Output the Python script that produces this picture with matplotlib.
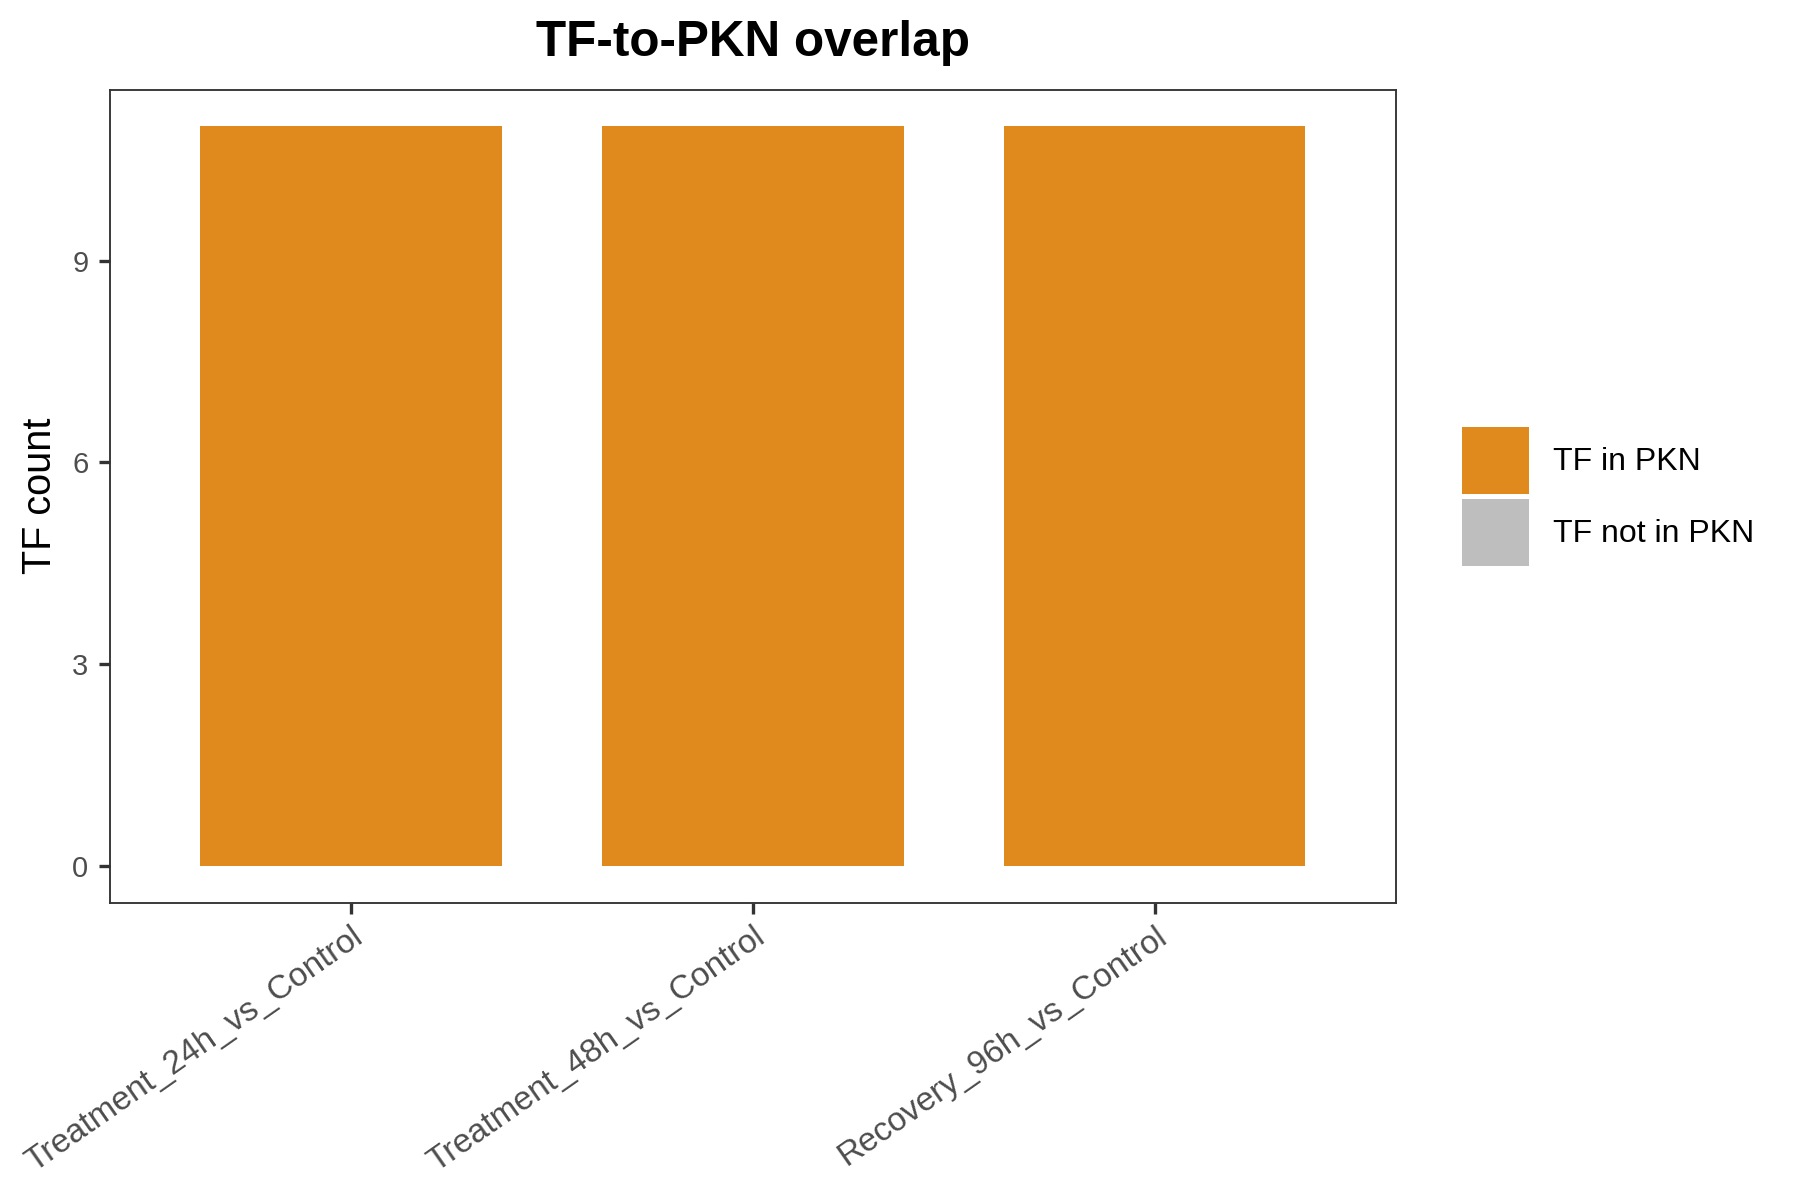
import numpy as np
import matplotlib
matplotlib.use('Agg')
import matplotlib.pyplot as plt
from matplotlib.patches import Patch

plt.rcParams['font.family'] = ['Liberation Sans', 'DejaVu Sans']

# data
contrasts = ['Treatment_24h_vs_Control', 'Treatment_48h_vs_Control', 'Recovery_96h_vs_Control']
tf_in_pkn = [11, 11, 11]
tf_not_in_pkn = [0, 0, 0]
series_labels = ['TF in PKN', 'TF not in PKN']
series_colors = ['#E08A1E', '#BEBEBE']
y_ticks = [0, 3, 6, 9]

fig = plt.figure(figsize=(6, 4), dpi=300)
ax = fig.add_axes([0.0611, 0.2479, 0.7144, 0.6775])

x = np.arange(1, len(contrasts) + 1)
ax.bar(x, tf_in_pkn, width=0.75, color=series_colors[0], label=series_labels[0])
ax.bar(x, tf_not_in_pkn, width=0.75, bottom=tf_in_pkn, color=series_colors[1], label=series_labels[1])

ax.set_xlim(0.4, 3.6)
ax.set_ylim(-0.55, 11.55)
ax.set_yticks(y_ticks)
ax.set_xticks(x)
ax.set_xticklabels(contrasts, rotation=35, ha='right', va='top', rotation_mode='anchor')

for s in ax.spines.values():
    s.set_color('#333333')
    s.set_linewidth(0.45)
ax.tick_params(axis='both', colors='#333333', width=0.8, length=2.6, pad=2.6,
               labelsize=7.0, labelcolor='#4D4D4D')
ax.tick_params(axis='x', labelsize=8.0, pad=1.8)

ax.set_ylabel('TF count', fontsize=9.5, color='black')
ax.yaxis.set_label_coords(-0.040, 0.5)

ax.set_title('TF-to-PKN overlap', fontsize=11.9, fontweight='bold', pad=8)

# legend
handles = [Patch(facecolor=c, edgecolor='none') for c in series_colors]
fig.legend(handles, series_labels, loc='upper left', bbox_to_anchor=(1462 / 1800, 1 - 427 / 1200),
           frameon=False, fontsize=7.7, handlelength=2.1, handleheight=2.84,
           labelspacing=0.16, handletextpad=0.75, borderpad=0, borderaxespad=0)

fig.savefig('out.png', dpi=300)
